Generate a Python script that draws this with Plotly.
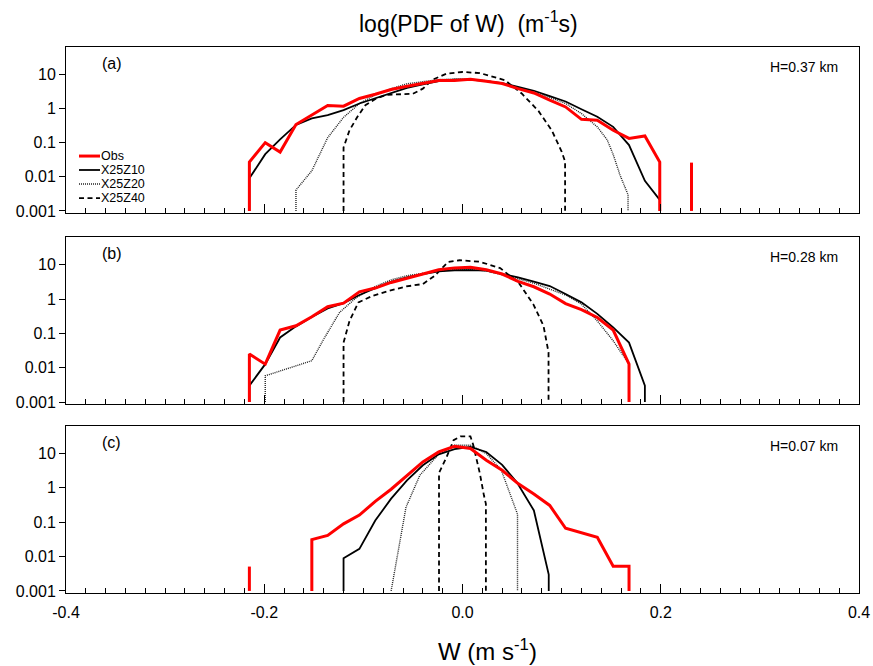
import plotly.graph_objects as go

# ---------------- Data: W (m/s) and PDF values ----------------
# Panel (a)  H=0.37 km
obs_a_w = [-0.215, -0.215, -0.199, -0.184, -0.168, -0.152, -0.136, -0.120, -0.104, -0.088, -0.072, -0.056,
           -0.040, -0.024, -0.008, 0.008, 0.024, 0.040, 0.056, 0.072, 0.088, 0.104, 0.120, 0.136, 0.152,
           0.168, 0.184, 0.199, 0.199, None, 0.231, 0.231]
obs_a_p = [0.001, 0.027, 0.10, 0.053, 0.34, 0.64, 1.22, 1.17, 1.96, 2.6, 3.6, 4.5,
           5.4, 6.6, 6.6, 7.2, 6.25, 5.4, 3.8, 2.85, 1.75, 1.11, 0.48, 0.45, 0.23,
           0.133, 0.157, 0.027, 0.001, None, 0.001, 0.026]
z10_a_w = [-0.215, -0.215, -0.199, -0.184, -0.168, -0.152, -0.136, -0.120, -0.104, -0.088, -0.072, -0.056,
           -0.040, -0.024, -0.008, 0.008, 0.024, 0.040, 0.056, 0.072, 0.088, 0.104, 0.120, 0.136, 0.152,
           0.168, 0.184, 0.199, 0.199]
z10_a_p = [0.001, 0.009, 0.046, 0.125, 0.33, 0.51, 0.64, 0.89, 1.4, 2.0, 2.85, 4.0,
           5.1, 6.3, 7.0, 7.0, 6.3, 5.5, 4.3, 3.3, 2.3, 1.6, 0.95, 0.57, 0.29,
           0.085, 0.0076, 0.0021, 0.001]
z20_a_w = [-0.168, -0.168, -0.152, -0.136, -0.120, -0.104, -0.088, -0.072, -0.056, -0.040, -0.024, -0.008,
           0.008, 0.024, 0.040, 0.056, 0.072, 0.088, 0.104, 0.120, 0.136, 0.146, 0.152, 0.159, 0.167, 0.167]
z20_a_p = [0.001, 0.0041, 0.015, 0.14, 0.55, 1.4, 2.5, 3.8, 5.3, 6.0, 7.0, 7.3,
           7.2, 6.5, 5.4, 4.1, 3.0, 2.1, 1.4, 0.71, 0.29, 0.12, 0.045, 0.011, 0.003, 0.001]
z40_a_w = [-0.120, -0.120, -0.114, -0.106, -0.098, -0.087, -0.077, -0.064, -0.050, -0.040, -0.030, -0.016,
           0.000, 0.0175, 0.043, 0.060, 0.0766, 0.090, 0.100, 0.1035, 0.1035]
z40_a_p = [0.001, 0.072, 0.23, 0.57, 1.25, 1.96, 2.5, 2.6, 2.7, 3.8, 7.0, 10.5,
           11.7, 10.9, 6.7, 2.7, 0.85, 0.23, 0.055, 0.028, 0.001]

# Panel (b)  H=0.28 km
obs_b_w = [-0.215, -0.215, -0.199, -0.184, -0.168, -0.152, -0.136, -0.120, -0.104, -0.088, -0.072, -0.056,
           -0.040, -0.024, -0.008, 0.008, 0.024, 0.040, 0.056, 0.072, 0.088, 0.104, 0.120, 0.136, 0.152,
           0.168, 0.168]
obs_b_p = [0.001, 0.025, 0.0127, 0.125, 0.167, 0.305, 0.6, 0.76, 1.63, 2.09, 3.05, 4.1,
           5.36, 7.15, 8.1, 8.4, 7.15, 5.36, 3.26, 2.28, 1.4, 0.74, 0.49, 0.29, 0.125,
           0.0127, 0.001]
z10_b_w = [-0.215, -0.215, -0.199, -0.184, -0.168, -0.152, -0.136, -0.120, -0.104, -0.088, -0.072, -0.056,
           -0.040, -0.024, -0.008, 0.008, 0.024, 0.040, 0.056, 0.072, 0.088, 0.104, 0.120, 0.136, 0.152,
           0.168, 0.184, 0.184]
z10_b_p = [0.001, 0.003, 0.0127, 0.076, 0.16, 0.3, 0.53, 0.76, 1.31, 2.09, 3.15, 4.27,
           5.36, 6.4, 6.9, 7.0, 6.7, 5.4, 4.3, 3.2, 2.4, 1.4, 0.8, 0.37, 0.149,
           0.054, 0.003, 0.001]
z20_b_w = [-0.199, -0.199, -0.152, -0.140, -0.124, -0.107, -0.088, -0.072, -0.056, -0.040, -0.024, -0.008,
           0.008, 0.024, 0.040, 0.056, 0.072, 0.088, 0.104, 0.120, 0.136, 0.152, 0.168, 0.168]
z20_b_p = [0.001, 0.0058, 0.016, 0.068, 0.41, 1.11, 2.33, 3.6, 4.8, 5.7, 6.6, 7.2,
           7.3, 6.6, 5.2, 3.9, 2.9, 2.0, 1.31, 0.71, 0.23, 0.061, 0.0127, 0.001]
z40_b_w = [-0.120, -0.120, -0.114, -0.105, -0.0905, -0.0737, -0.0567, -0.040, -0.028, -0.0146, -0.003,
           0.0175, 0.038, 0.057, 0.0715, 0.0817, 0.0868, 0.0868]
z40_b_p = [0.001, 0.054, 0.23, 0.8, 1.25, 1.75, 2.33, 2.74, 4.8, 12.0, 13.5,
           12.2, 8.0, 2.9, 0.7, 0.167, 0.028, 0.001]

# Panel (c)  H=0.07 km
obs_c_w = [-0.215, -0.215, None, -0.152, -0.152, -0.136, -0.120, -0.104, -0.088, -0.072, -0.056, -0.040,
           -0.024, -0.008, 0.008, 0.024, 0.040, 0.056, 0.072, 0.088, 0.104, 0.120, 0.136, 0.152, 0.168, 0.168]
obs_c_p = [0.001, 0.0051, None, 0.001, 0.031, 0.041, 0.089, 0.16, 0.4, 0.9, 2.28, 5.58,
           10.9, 16, 13.7, 6.25, 3.2, 1.31, 0.65, 0.305, 0.066, 0.05, 0.036, 0.0052, 0.0052, 0.001]
z10_c_w = [-0.120, -0.120, -0.104, -0.088, -0.072, -0.056, -0.040, -0.024, -0.008, 0.008, 0.024, 0.040,
           0.055, 0.072, 0.087, 0.087]
z10_c_p = [0.001, 0.0089, 0.0167, 0.111, 0.48, 1.63, 4.47, 9.3, 13.1, 15.3, 10.9, 4.6,
           1.4, 0.218, 0.003, 0.001]
z20_c_w = [-0.072, -0.057, -0.043, -0.033, -0.0247, -0.008, 0.008, 0.024, 0.039, 0.0555, 0.0555]
z20_c_p = [0.001, 0.27, 2.3, 5.0, 9.0, 17, 17, 9.8, 3.3, 0.17, 0.001]
z40_c_w = [-0.0237, -0.0237, -0.016, -0.009, -0.002, 0.008, 0.0107, 0.0158, 0.0175, 0.0216, 0.0236, 0.0236]
z40_c_p = [0.001, 2.7, 7.8, 24, 31, 31, 18, 4.0, 2.6, 0.6, 0.34, 0.001]

panel_labels = ["(a)", "(b)", "(c)"]
height_labels = ["H=0.37 km", "H=0.28 km", "H=0.07 km"]
series_names = ["Obs", "X25Z10", "X25Z20", "X25Z40"]

y_tickvals = [0.001, 0.01, 0.1, 1, 10]
y_ticktext = ["0.001", "0.01", "0.1", "1", "10"]
x_tickvals = [-0.4, -0.2, 0.0, 0.2, 0.4]
x_ticktext = ["-0.4", "-0.2", "0.0", "0.2", "0.4"]
x_midticks = [-0.3, -0.1, 0.1, 0.3]

# ---------------- Styles ----------------
FONT = "Liberation Sans, Arial, Helvetica, sans-serif"
RED = "#ff0000"
styles = {
    "Obs": dict(color=RED, width=3, dash="solid"),
    "X25Z10": dict(color="black", width=1.8, dash="solid"),
    "X25Z20": dict(color="#222222", width=1.4, dash="1px,1px"),
    "X25Z40": dict(color="black", width=1.8, dash="5px,3.5px"),
}

panels = [
    dict(obs=(obs_a_w, obs_a_p), z10=(z10_a_w, z10_a_p), z20=(z20_a_w, z20_a_p), z40=(z40_a_w, z40_a_p)),
    dict(obs=(obs_b_w, obs_b_p), z10=(z10_b_w, z10_b_p), z20=(z20_b_w, z20_b_p), z40=(z40_b_w, z40_b_p)),
    dict(obs=(obs_c_w, obs_c_p), z10=(z10_c_w, z10_c_p), z20=(z20_c_w, z20_c_p), z40=(z40_c_w, z40_c_p)),
]
domains = [[0.696, 1.0], [0.346, 0.6515], [0.0, 0.3064]]

fig = go.Figure()
for i, pdat in enumerate(panels):
    xa = "x" if i == 0 else f"x{i+1}"
    ya = "y" if i == 0 else f"y{i+1}"
    for key, name in [("z40", "X25Z40"), ("z20", "X25Z20"), ("z10", "X25Z10"), ("obs", "Obs")]:
        w, p = pdat[key]
        fig.add_trace(go.Scatter(x=w, y=p, mode="lines", name=name, showlegend=False,
                                 line=styles[name], xaxis=xa, yaxis=ya, connectgaps=False))

layout = dict(
    width=873, height=666, paper_bgcolor="white", plot_bgcolor="white",
    margin=dict(l=66, r=14, t=47, b=73, autoexpand=False),
    font=dict(family=FONT, color="black"),
    showlegend=False,
)
for i in range(3):
    xk = "xaxis" if i == 0 else f"xaxis{i+1}"
    yk = "yaxis" if i == 0 else f"yaxis{i+1}"
    ya = "y" if i == 0 else f"y{i+1}"
    xa = "x" if i == 0 else f"x{i+1}"
    layout[xk] = dict(
        domain=[0, 1], anchor=ya, range=[-0.4, 0.4], showgrid=False, zeroline=False, automargin=False,
        showline=True, mirror=True, linecolor="black", linewidth=1,
        ticks="inside", tickvals=x_tickvals, ticktext=x_ticktext, ticklen=9, tickwidth=1, tickcolor="black",
        minor=dict(dtick=0.02, tick0=0, ticks="inside", ticklen=5, tickwidth=1, tickcolor="black", showgrid=False),
        showticklabels=(i == 2), tickfont=dict(size=16, family=FONT), ticklabelstandoff=5,
    )
    # extra long ticks at the odd tenths
    layout[f"xaxis{i+4}"] = dict(
        overlaying=xa, anchor=ya, side="bottom", range=[-0.4, 0.4], showgrid=False, zeroline=False,
        automargin=False, showline=False, ticks="inside", tickvals=x_midticks, ticklen=9, tickwidth=1,
        tickcolor="black", showticklabels=False,
    )
    layout[yk] = dict(
        domain=domains[i], anchor=xa, type="log", range=[-3.06, 1.8], showgrid=False, zeroline=False,
        automargin=False, showline=True, mirror=True, linecolor="black", linewidth=1,
        ticks="outside", tickvals=y_tickvals, ticktext=y_ticktext, ticklen=6, tickwidth=1, tickcolor="black",
        tickfont=dict(size=16, family=FONT),
    )
    # right-hand inward ticks
    layout[f"yaxis{i+4}"] = dict(
        overlaying=ya, anchor=xa, side="right", type="log", range=[-3.06, 1.8], showgrid=False,
        automargin=False, zeroline=False, showline=False, ticks="inside", tickvals=y_tickvals, ticklen=7,
        tickwidth=1, tickcolor="black", showticklabels=False,
    )

annotations = []
shapes = []
for i in range(3):
    xd = "x domain" if i == 0 else f"x{i+1} domain"
    yd = "y domain" if i == 0 else f"y{i+1} domain"
    annotations.append(dict(text=panel_labels[i], xref=xd, yref=yd, x=0.043, y=0.90, xanchor="left",
                            yanchor="middle", showarrow=False, font=dict(size=16, family=FONT)))
    annotations.append(dict(text=height_labels[i], xref=xd, yref=yd, x=0.976, y=0.88, xanchor="right",
                            yanchor="middle", showarrow=False, font=dict(size=14, family=FONT)))

# legend inside panel (a)
leg_y = [0.343, 0.259, 0.175, 0.090]
for name, yy in zip(series_names, leg_y):
    st = styles[name]
    shapes.append(dict(type="line", xref="x domain", yref="y domain", x0=0.0164, x1=0.0429, y0=yy, y1=yy,
                       line=dict(color=st["color"], width=st["width"], dash=st["dash"])))
    annotations.append(dict(text=name, xref="x domain", yref="y domain", x=0.0435, y=yy, xanchor="left",
                            yanchor="middle", showarrow=False, borderpad=0,
                            font=dict(size=12.5, family=FONT)))

# titles
annotations.append(dict(text="log(PDF of W)  (m<sup>-1</sup>s)", xref="paper", yref="paper", x=0.507, y=1.045,
                        xanchor="center", yanchor="middle", showarrow=False, font=dict(size=23, family=FONT)))
annotations.append(dict(text="W (m s<sup>-1</sup>)", xref="paper", yref="paper", x=0.531, y=-0.104,
                        xanchor="center", yanchor="middle", showarrow=False, font=dict(size=24, family=FONT)))

layout["annotations"] = annotations
layout["shapes"] = shapes
fig.update_layout(**layout)
fig.write_html("out.html")
